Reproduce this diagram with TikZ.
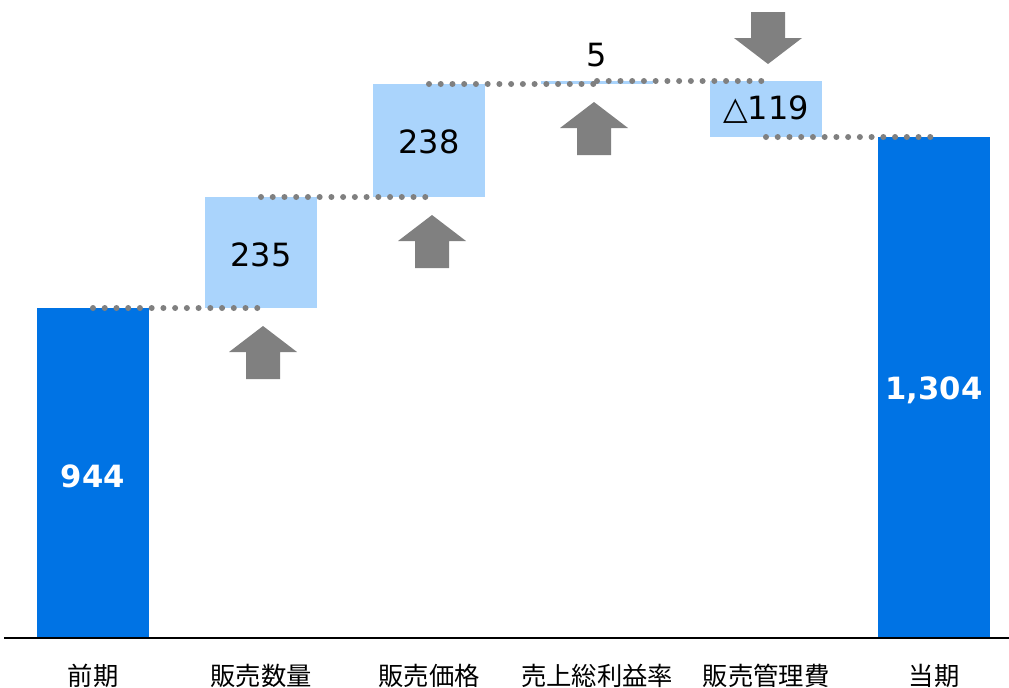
\documentclass[tikz,border=0pt]{standalone}
\usepackage{fontspec}
\setmainfont{DejaVu Sans}
\newfontfamily\jpfont{Noto Sans CJK JP}
\usetikzlibrary{calc}

\definecolor{barblue}{RGB}{0,115,228}
\definecolor{steplight}{RGB}{170,212,252}
\definecolor{arrowgray}{RGB}{128,128,128}

\tikzset{
	level/.style={arrowgray, line width=4.5pt, line cap=round, dash pattern=on 0pt off 8.8pt},
	valdark/.style={font=\fontsize{24}{28}\selectfont, text=black, inner sep=0pt},
	valwhite/.style={font=\fontsize{23}{27}\selectfont\bfseries, text=white, inner sep=0pt},
	axislabel/.style={font=\jpfont\fontsize{19}{23}\selectfont, inner sep=0pt}
}

\begin{document}
\begin{tikzpicture}[x=0.75pt,y=-0.75pt]

	\useasboundingbox (0,0) rectangle (1009,687);

	% bars (start and end)
	\fill[barblue] (37,308) rectangle (149,638);
	\fill[barblue] (878,137) rectangle (990,638);

	% step boxes
	\fill[steplight] (205,197) rectangle (317,308);
	\fill[steplight] (373,84) rectangle (485,197);
	\fill[steplight] (541,81) rectangle (653,84);
	\fill[steplight] (710,81) rectangle (822,137);

	% level points
	\coordinate (L0) at (93,308);
	\coordinate (L1) at (261,308);
	\coordinate (M1) at (261,197);
	\coordinate (M2) at (429,197);
	\coordinate (N2) at (429,84);
	\coordinate (N3) at (597,84);
	\coordinate (K3) at (597,81);
	\coordinate (K4) at (766,81);
	\coordinate (J4) at (766,137);
	\coordinate (J5) at (934,137);

	% dotted level lines
	\draw[level] (L0) -- (L1);
	\draw[level] (M1) -- (M2);
	\draw[level] (N2) -- (N3);
	\draw[level] (K3) -- (K4);
	\draw[level] (J4) -- (J5);

	% up arrows (tip position)
	\foreach \x/\y in {263/326, 432/215, 594/102}
		\fill[arrowgray] (\x,\y) -- ++(34,26) -- ++(-17,0) -- ++(0,27)
			-- ++(-34,0) -- ++(0,-27) -- ++(-17,0) -- cycle;

	% down arrow
	\fill[arrowgray] (768,64) -- ++(34,-26) -- ++(-17,0) -- ++(0,-26)
		-- ++(-34,0) -- ++(0,26) -- ++(-17,0) -- cycle;

	% axis
	\coordinate (A0) at (4,638);
	\coordinate (A1) at (1009,638);
	\draw[line width=1.5pt] (A0) -- (A1);

	% values
	\node[valwhite] (v944)  at (93,476)  {944};
	\node[valwhite] (v1304) at (934,390) {1,304};
	\node[valdark]  (v235)  at (261,255) {235};
	\node[valdark]  (v238)  at (429,142) {238};
	\node[valdark]  (v5)    at (597,55)  {5};
	\node[valdark]  (v119)  at (766,110) {△119};

	% category labels
	\node[axislabel] (zenki)   at (93,676)  {前期};
	\node[axislabel] (suryo)   at (261,676) {販売数量};
	\node[axislabel] (kakaku)  at (429,676) {販売価格};
	\node[axislabel] (rieki)   at (597,676) {売上総利益率};
	\node[axislabel] (kanri)   at (766,676) {販売管理費};
	\node[axislabel] (toki)    at (934,676) {当期};

\end{tikzpicture}
\end{document}
